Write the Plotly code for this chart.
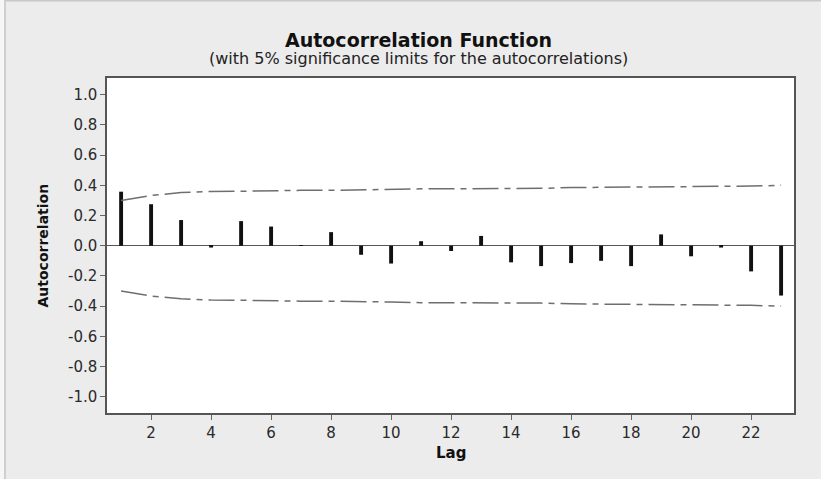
import plotly.graph_objects as go

# ---- data ----
lags = list(range(1, 24))
acf_values = [0.358, 0.275, 0.170, -0.012, 0.163, 0.127, 0.003, 0.090, -0.060,
              -0.118, 0.030, -0.035, 0.065, -0.110, -0.135, -0.115, -0.100,
              -0.135, 0.075, -0.070, -0.012, -0.170, -0.330]
upper_limit = [0.300, 0.333, 0.352, 0.360, 0.361, 0.365, 0.367, 0.367, 0.372,
               0.373, 0.377, 0.377, 0.378, 0.378, 0.380, 0.385, 0.386, 0.389,
               0.391, 0.393, 0.394, 0.395, 0.400]
lower_limit = [-v for v in upper_limit]
x_tick_vals = [2, 4, 6, 8, 10, 12, 14, 16, 18, 20, 22]
y_tick_vals = [-1.0, -0.8, -0.6, -0.4, -0.2, 0.0, 0.2, 0.4, 0.6, 0.8, 1.0]
y_tick_text = ["-1.0", "-0.8", "-0.6", "-0.4", "-0.2", "0.0", "0.2", "0.4", "0.6", "0.8", "1.0"]

title_text = "Autocorrelation Function"
subtitle_text = "(with 5% significance limits for the autocorrelations)"
x_title = "Lag"
y_title = "Autocorrelation"

FONT = "DejaVu Sans"

# plot area in pixels
W, H = 821, 479
L, R, T, B = 107, 27, 78, 66
pw, ph = W - L - R, H - T - B


def px(xp):
    return (xp - L) / pw


def py(yp):
    return (H - B - yp) / ph


fig = go.Figure()

lim_line = dict(color="#6e6e6e", width=1.5, dash="26px,6px,6px,6px")
fig.add_trace(go.Scatter(x=lags, y=upper_limit, mode="lines", line=lim_line,
                         hoverinfo="skip", showlegend=False))
fig.add_trace(go.Scatter(x=lags, y=lower_limit, mode="lines", line=lim_line,
                         hoverinfo="skip", showlegend=False))
fig.add_trace(go.Bar(x=lags, y=acf_values, width=0.13, marker=dict(color="#111111", line=dict(width=0)),
                     showlegend=False))

fig.update_layout(
    width=W, height=H,
    margin=dict(l=L, r=R, t=T, b=B, pad=0),
    paper_bgcolor="#ececec",
    plot_bgcolor="white",
    showlegend=False,
    font=dict(family=FONT, size=15, color="#222222"),
)

fig.update_xaxes(range=[0.53, 23.43], tickvals=x_tick_vals, ticks="outside", ticklen=5,
                 tickwidth=1, tickcolor="#666666", showgrid=False, zeroline=False,
                 showline=True, linecolor="#555555", linewidth=1.5, mirror=True,
                 tickfont=dict(family=FONT, size=15, color="#2a2a2a"))
fig.update_yaxes(range=[-1.108, 1.111], tickvals=y_tick_vals, ticktext=y_tick_text,
                 ticks="outside", ticklen=5, tickwidth=1, tickcolor="#666666",
                 showgrid=False, zeroline=True, zerolinecolor="#555555", zerolinewidth=1,
                 showline=True, linecolor="#555555", linewidth=1.5, mirror=True,
                 tickfont=dict(family=FONT, size=15, color="#2a2a2a"))

ann = []
ann.append(dict(text="<b>" + title_text + "</b>", xref="paper", yref="paper",
                x=px(418), y=py(40), xanchor="center", yanchor="middle", showarrow=False,
                font=dict(family=FONT, size=19, color="#111111")))
ann.append(dict(text=subtitle_text, xref="paper", yref="paper",
                x=px(418), y=py(59), xanchor="center", yanchor="middle", showarrow=False,
                font=dict(family=FONT, size=16, color="#222222")))
ann.append(dict(text="<b>" + y_title + "</b>", xref="paper", yref="paper",
                x=px(42), y=0.5, xanchor="center", yanchor="middle", textangle=-90,
                showarrow=False, font=dict(family=FONT, size=14, color="#111111")))
ann.append(dict(text="<b>" + x_title + "</b>", xref="paper", yref="paper",
                x=0.5, y=py(453), xanchor="center", yanchor="middle",
                showarrow=False, font=dict(family=FONT, size=15, color="#111111")))
fig.update_layout(annotations=ann)

shapes = [
    dict(type="rect", xref="paper", yref="paper", x0=px(-2), x1=px(4), y0=py(-2), y1=py(H + 2),
         fillcolor="#f6f6f6", line=dict(width=0), layer="above"),
    dict(type="line", xref="paper", yref="paper", x0=px(5), x1=px(5), y0=py(0), y1=py(H + 2),
         line=dict(color="#cfcfcf", width=2), layer="above"),
    dict(type="line", xref="paper", yref="paper", x0=px(5), x1=px(W + 2), y0=py(0.5), y1=py(0.5),
         line=dict(color="#c8c8c8", width=2), layer="above"),
]
fig.update_layout(shapes=shapes)

fig.write_html("out.html", config={"displayModeBar": False},
               post_script="document.body.style.margin='0';document.body.style.padding='0';document.body.style.overflow='hidden';")
